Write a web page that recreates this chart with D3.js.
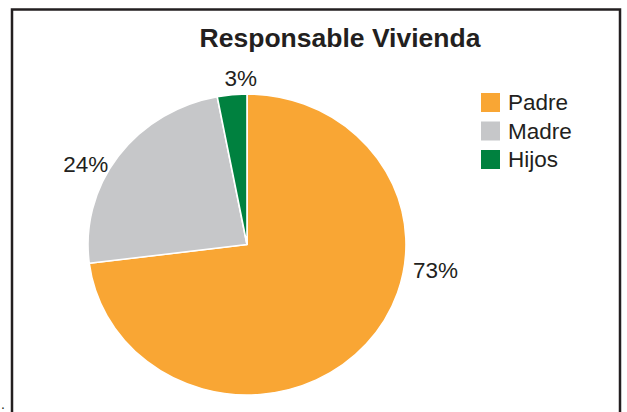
<!DOCTYPE html>
<meta charset="utf-8">
<title>Responsable Vivienda</title>
<script src="https://d3js.org/d3.v7.min.js"></script>
<style>
  body { margin: 0; background: white; }
  svg { display: block; font-family: "Liberation Sans", Arial, sans-serif; }
</style>
<body>
<svg class=chart></svg>
<script>

// data
var categories = ["Padre", "Madre", "Hijos"];
var values = [73, 24, 3];
var labels = ["73%", "24%", "3%"];
var colors = ["#f9a634", "#c6c7c9", "#00813f"];

var width = 627;
var height = 412;
var cx = 247, cy = 244.5;
var radius = 159;
var ky = 0.9465;      // pie is a bit squashed vertically in the picture
var labelRadius = 182;
// nudges from the outer-arc point to where the labels sit
var labelShift = { Padre: [52, -88], Madre: [-14, 21], Hijos: [11, 5.5] };

var svg = d3.select(".chart")
  .attr("width", width)
  .attr("height", height);

// frame
svg.append("rect")
  .attr("x", 12)
  .attr("y", 9.5)
  .attr("width", 608)
  .attr("height", 410)
  .attr("fill", "none")
  .attr("stroke", "#231f20")
  .attr("stroke-width", 2.5);

svg.append("text")
  .attr("x", 1)
  .attr("y", 409)
  .attr("font-size", 14)
  .attr("fill", "#231f20")
  .text(".");

svg.append("text")
  .attr("x", 340)
  .attr("y", 47)
  .attr("text-anchor", "middle")
  .attr("font-weight", "bold")
  .attr("font-size", 26.5)
  .attr("fill", "#231f20")
  .text("Responsable Vivienda");

var pie = d3.pie().sort(null).value(function(d) { return d; });
var arcs = pie(values);
var arc = d3.arc().innerRadius(0).outerRadius(radius);

var g = svg.append("g")
  .attr("transform", "translate(" + cx + "," + cy + ") scale(1," + ky + ")");

g.selectAll("path")
  .data(arcs)
  .enter().append("path")
  .attr("d", arc)
  .attr("fill", function(d, i) { return colors[i]; })
  .attr("stroke", "white")
  .attr("stroke-width", 1.6)
  .attr("stroke-linejoin", "round");

svg.selectAll(".pie-label")
  .data(arcs)
  .enter().append("text")
  .attr("class", "pie-label")
  .attr("text-anchor", "middle")
  .attr("dy", "0.35em")
  .attr("font-size", 22.5)
  .attr("fill", "#231f20")
  .attr("x", function(d, i) {
    var a = (d.startAngle + d.endAngle) / 2;
    return cx + Math.sin(a) * labelRadius + labelShift[categories[i]][0];
  })
  .attr("y", function(d, i) {
    var a = (d.startAngle + d.endAngle) / 2;
    return cy - Math.cos(a) * labelRadius * ky + labelShift[categories[i]][1];
  })
  .text(function(d, i) { return labels[i]; });

// legend
var legend = svg.append("g").attr("transform", "translate(481,93)");
var row = d3.scaleBand().domain(categories).range([0, 85.5]);

var item = legend.selectAll("g")
  .data(categories)
  .enter().append("g")
  .attr("transform", function(d) { return "translate(0," + row(d) + ")"; });

item.append("rect")
  .attr("width", 19)
  .attr("height", 19)
  .attr("fill", function(d, i) { return colors[i]; });

item.append("text")
  .attr("x", 27)
  .attr("y", 17)
  .attr("font-size", 22.5)
  .attr("fill", "#231f20")
  .text(function(d) { return d; });

</script>
</body>
